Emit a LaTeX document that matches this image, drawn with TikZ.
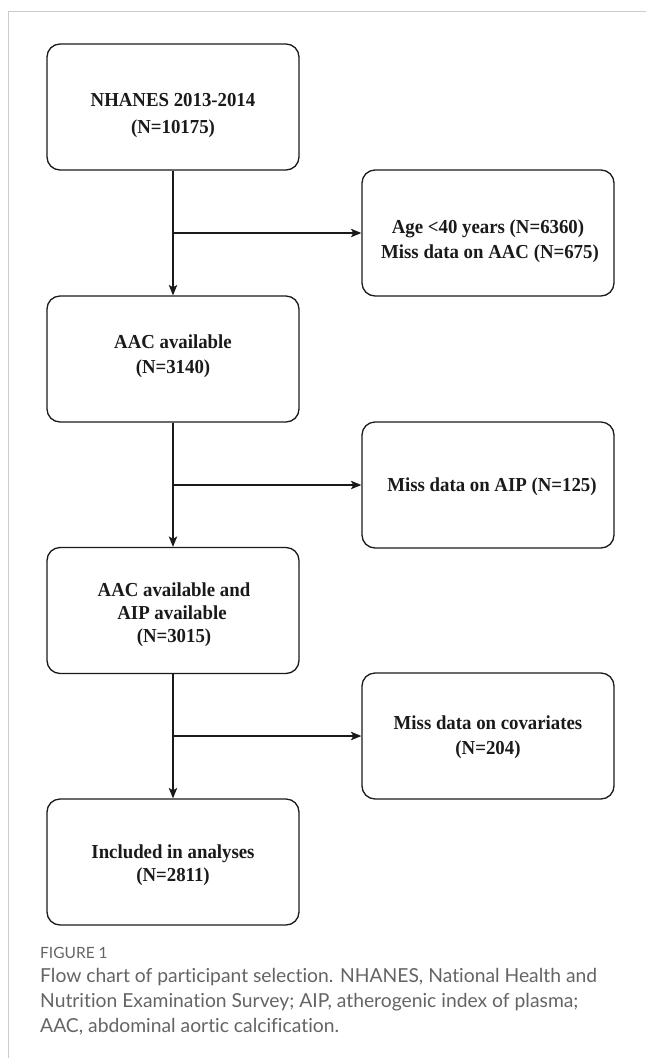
\documentclass[tikz,border=0pt]{standalone}
\usepackage{fontspec}
\setmainfont{Liberation Serif}
\newfontfamily\boxfont[FakeStretch=0.95]{Liberation Serif}
\newfontfamily\capfont[Ligatures={CommonOff,ContextualOff}]{Lato}
\usetikzlibrary{arrows.meta}
\definecolor{framegray}{HTML}{CCCCCC}
\definecolor{capgray}{HTML}{646464}
\definecolor{ink}{HTML}{1A1A1A}
\begin{document}
\begin{tikzpicture}[x=1pt,y=-1pt,
  box/.style={draw=ink, line width=1.3pt, rounded corners=13pt, minimum width=252pt, minimum height=126pt, inner sep=0pt},
  txt/.style={font=\boxfont\bfseries\fontsize{19.8}{23}\selectfont, anchor=base, inner sep=0pt, text=ink},
  arr/.style={draw=ink, line width=1.1pt, -{Stealth[length=10.5pt,width=8.5pt,inset=2.5pt]}},
  ln/.style={draw=ink, line width=1.1pt},
  capline/.style={anchor=base west, inner sep=0pt, text=capgray, font=\capfont\fontsize{19.3}{25}\selectfont}]
\useasboundingbox (0,0) rectangle (646,1058);
\draw[framegray, line width=1pt] (8,1058) -- (8,11) -- (646,11);

% boxes
\node[box] (b1) at (173,107) {};
\node[box] (r1) at (488,233) {};
\node[box] (b2) at (173,359) {};
\node[box] (r2) at (488,485) {};
\node[box] (b3) at (173,610.5) {};
\node[box] (r3) at (488,736) {};
\node[box] (b4) at (173,862) {};

% texts
\node[txt] (t1a) at (173,106) {NHANES 2013-2014};
\node[txt] (t1b) at (173,133) {(N=10175)};
\node[txt] (u1a) at (488,233) {Age <40 years (N=6360)};
\node[txt] (u1b) at (490,258) {Miss data on AAC (N=675)};
\node[txt] (t2a) at (173,348) {AAC available};
\node[txt] (t2b) at (173,373) {(N=3140)};
\node[txt] (u2a) at (492,491) {Miss data on AIP (N=125)};
\node[txt] (t3a) at (174,596) {AAC available and};
\node[txt] (t3b) at (172,619) {AIP available};
\node[txt] (t3c) at (174,642) {(N=3015)};
\node[txt] (u3a) at (488,729) {Miss data on covariates};
\node[txt] (u3b) at (488,754) {(N=204)};
\node[txt] (t4a) at (173,858) {Included in analyses};
\node[txt] (t4b) at (173,881) {(N=2811)};

% connectors
\coordinate (j1) at (b1.south |- r1.west);
\coordinate (j2) at (b2.south |- r2.west);
\coordinate (j3) at (b3.south |- r3.west);
\draw[ln] (b1.south) -- (j1);
\draw[arr] (j1) -- (b2.north);
\draw[arr] (j1) -- (r1.west);
\draw[ln] (b2.south) -- (j2);
\draw[arr] (j2) -- (b3.north);
\draw[arr] (j2) -- (r2.west);
\draw[ln] (b3.south) -- (j3);
\draw[arr] (j3) -- (b4.north);
\draw[arr] (j3) -- (r3.west);

% caption
\node[anchor=base west, inner sep=0pt, text=capgray, font=\capfont\fontsize{15.5}{18}\selectfont] (fig) at (40,958) {FIGURE 1};
\node[capline] (c1) at (40,982) {Flow chart of participant selection. NHANES, Nat\kern0pt ional Health and};
\node[capline] (c2) at (40,1007) {Nutrition Examination Survey; AIP, atherogenic index of plasma;};
\node[capline] (c3) at (40,1032) {AAC, abdominal aortic calcif\kern0pt icat\kern0pt ion.};
\end{tikzpicture}
\end{document}
